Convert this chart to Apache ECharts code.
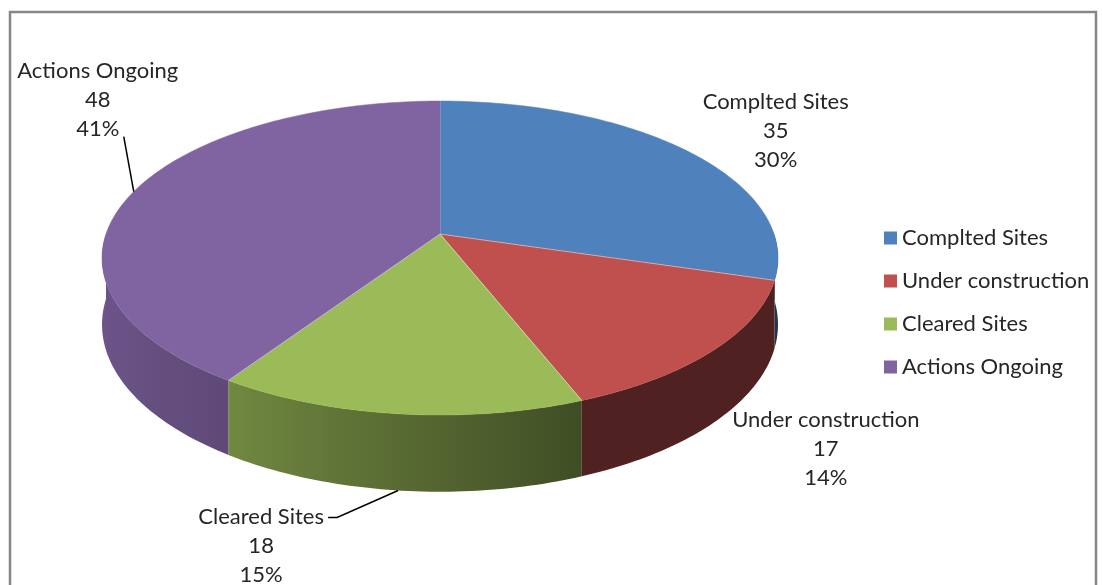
<!DOCTYPE html>
<html>
<head>
<meta charset="utf-8">
<script src="https://cdn.jsdelivr.net/npm/echarts@6/dist/echarts.min.js"></script>
<style>
    html, body { margin: 0; padding: 0; background: #fff; }
    #chart { width: 1102px; height: 585px; }
</style>
</head>
<body>
<div id="chart"></div>
<script>
    // data
    const categories = ['Complted Sites', 'Under construction', 'Cleared Sites', 'Actions Ongoing'];
    const values = [35, 17, 18, 48];

    const colors = ['#4F81BD', '#C0504D', '#9BBB59', '#8064A2'];
    const FONT = 'Lato';
    const TEXT_COLOR = '#262626';

    // pie geometry (fake perspective)
    const CX = 440, CY = 234, RX = 334, RY = 153.3, P = 0.153, DEPTH = 65;

    // label placement: offset of label centre from the slice anchor, and optional leader end (relative to label centre)
    const labelLayout = [
        {dx: 90, dy: -19},
        {dx: 112, dy: 26},
        {dx: -137, dy: 55, leader: [[76, -28], [67, -28]]},
        {dx: -36, dy: -92, leader: [[26, 37]]}
    ];

    const total = values.reduce((a, b) => a + b, 0);

    function proj(th, r, drop) {
        const u = r * Math.cos(th), v = r * Math.sin(th);
        const w = 1 / (1 - P * v);
        return [CX + RX * u * w, CY + RY * v * w + drop * DEPTH * w];
    }

    // side shade factor by angle (deg, 0 = right, 90 = front, 180 = left)
    const shadeStops = [[0, 0.41], [68, 0.41], [125, 0.74], [150, 0.82], [180, 0.86]];
    function shade(deg) {
        for (let i = 1; i < shadeStops.length; i++) {
            if (deg <= shadeStops[i][0]) {
                const a = shadeStops[i - 1], b = shadeStops[i];
                return a[1] + (b[1] - a[1]) * (deg - a[0]) / (b[0] - a[0]);
            }
        }
        return shadeStops[shadeStops.length - 1][1];
    }
    function darken(hex, f) {
        const n = parseInt(hex.slice(1), 16);
        const r = Math.round(((n >> 16) & 255) * f);
        const g = Math.round(((n >> 8) & 255) * f);
        const b = Math.round((n & 255) * f);
        return 'rgb(' + r + ',' + g + ',' + b + ')';
    }

    function arcPoints(a0, a1, drop) {
        const pts = [];
        const n = Math.max(2, Math.ceil((a1 - a0) / (Math.PI / 180)));
        for (let i = 0; i <= n; i++) {
            pts.push(proj(a0 + (a1 - a0) * i / n, 1, drop));
        }
        return pts;
    }

    function renderItem(params, api) {
        const idx = params.dataIndex;
        const val = api.value(0);
        let before = 0;
        for (let i = 0; i < idx; i++) before += values[i];
        const a0 = -Math.PI / 2 + before / total * Math.PI * 2;
        const a1 = a0 + val / total * Math.PI * 2;
        const color = colors[idx];
        const children = [];

        // front side wall
        const s = Math.max(a0, 0), e = Math.min(a1, Math.PI);
        if (e > s) {
            const topArc = arcPoints(s, e, 0);
            const botArc = arcPoints(s, e, 1).reverse();
            let xmin = Infinity, xmax = -Infinity;
            topArc.forEach(p => { xmin = Math.min(xmin, p[0]); xmax = Math.max(xmax, p[0]); });
            const stops = [];
            const n = 12;
            for (let i = 0; i <= n; i++) {
                const th = s + (e - s) * i / n;
                const x = proj(th, 1, 0)[0];
                stops.push({
                    offset: Math.min(1, Math.max(0, (x - xmin) / Math.max(1, xmax - xmin))),
                    color: darken(color, shade(th * 180 / Math.PI))
                });
            }
            stops.sort((p, q) => p.offset - q.offset);
            children.push({
                type: 'polygon',
                shape: {points: topArc.concat(botArc)},
                style: {
                    fill: {type: 'linear', x: xmin, y: 0, x2: xmax, y2: 0, global: true, colorStops: stops},
                    stroke: null
                }
            });
        }

        // top face
        const top = [[CX, CY]].concat(arcPoints(a0, a1, 0));
        children.push({
            type: 'polygon',
            shape: {points: top},
            style: {fill: color, stroke: color, lineWidth: 0.5}
        });
        children.push({
            type: 'polyline',
            shape: {points: [[CX, CY], proj(a0, 1, 0)]},
            style: {stroke: 'rgba(255,255,255,0.45)', lineWidth: 1, fill: null}
        });

        // label
        const mid = (a0 + a1) / 2;
        const front = Math.sin(mid) > 0;
        const anchor = proj(mid, 1, front ? 1 : 0);
        const lay = labelLayout[idx];
        const lx = anchor[0] + lay.dx, ly = anchor[1] + lay.dy;
        const pct = Math.round(val / total * 100);
        if (lay.leader) {
            const pts = [anchor].concat(lay.leader.map(d => [lx + d[0], ly + d[1]]));
            children.push({
                type: 'polyline',
                shape: {points: pts},
                style: {stroke: '#000', lineWidth: 1.5, fill: null},
                z2: 20
            });
        }
        children.push({
            type: 'text',
            x: lx,
            y: ly,
            z2: 30,
            style: {
                text: categories[idx] + '\n' + val + '\n' + pct + '%',
                fill: TEXT_COLOR,
                font: '22px ' + FONT,
                lineHeight: 29,
                align: 'center',
                verticalAlign: 'middle'
            }
        });

        return {type: 'group', children: children};
    }

    const chart = echarts.init(document.getElementById('chart'), null, {renderer: 'canvas'});

    chart.setOption({
        animation: false,
        graphic: [{
            type: 'rect',
            shape: {x: 10, y: 12, width: 1086, height: 600},
            style: {fill: null, stroke: '#878787', lineWidth: 2.5},
            silent: true,
            z: -10
        }],
        legend: {
            orient: 'vertical',
            left: 879,
            top: 221,
            icon: 'rect',
            itemWidth: 13,
            itemHeight: 13,
            itemGap: 19,
            textStyle: {fontFamily: FONT, fontSize: 22, color: TEXT_COLOR, lineHeight: 24},
            data: categories,
            selectedMode: false
        },
        series: [
            {
                type: 'custom',
                coordinateSystem: 'none',
                renderItem: renderItem,
                data: values.map((v, i) => ({name: categories[i], value: [v]})),
                silent: true
            },
            {
                // only feeds the legend
                type: 'pie',
                radius: 0,
                center: [-100, -100],
                silent: true,
                label: {show: false},
                labelLine: {show: false},
                data: values.map((v, i) => ({name: categories[i], value: v, itemStyle: {color: colors[i]}}))
            }
        ]
    });
</script>
</body>
</html>
